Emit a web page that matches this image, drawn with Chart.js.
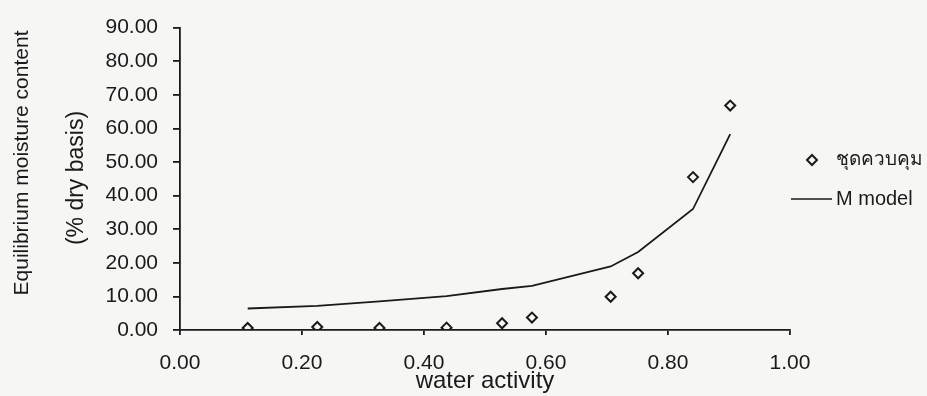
<!DOCTYPE html>
<html>
<head>
<meta charset="utf-8">
<script src="https://cdn.jsdelivr.net/npm/chart.js@4"></script>
<style>
  body { margin: 0; background: #f6f6f5; }
  #wrap { width: 927px; height: 396px; position: relative; }
</style>
</head>
<body>
<div id="wrap"><canvas id="emc-chart"></canvas></div>
<script>
// values
const waterActivity = [0.111, 0.225, 0.327, 0.437, 0.528, 0.577, 0.706, 0.751, 0.841, 0.902];
const controlSet = [0.6, 0.9, 0.6, 0.7, 2.0, 3.7, 9.9, 16.9, 45.5, 66.8];
const mModel = [6.4, 7.2, 8.5, 10.1, 12.2, 13.1, 18.9, 23.2, 36.0, 58.3];
const seriesNames = ['ชุดควบคุม', 'M model'];
const yTitleLines = ['Equilibrium moisture content', '(% dry basis)'];
const xTitle = 'water activity';

const ink = '#1a1a1a';
const fontFamily = 'Arial, "Liberation Sans", sans-serif';

function toPoints(xs, ys) {
    return xs.map((x, i) => ({ x: x, y: ys[i] }));
}

// paints the page background and the hand-placed legend / y title
const decorations = {
    id: 'decorations',
    beforeDraw(chart) {
        const ctx = chart.ctx;
        ctx.save();
        ctx.fillStyle = '#f6f6f5';
        ctx.fillRect(0, 0, chart.width, chart.height);
        ctx.restore();
    },
    afterDraw(chart) {
        const ctx = chart.ctx;
        ctx.save();
        ctx.fillStyle = ink;
        ctx.textBaseline = 'middle';
        ctx.textAlign = 'center';

        // y axis title, two rotated lines
        ctx.save();
        ctx.translate(22, 163);
        ctx.rotate(-Math.PI / 2);
        ctx.font = '21px ' + fontFamily;
        ctx.fillText(yTitleLines[0], 0, 0);
        ctx.restore();
        ctx.save();
        ctx.translate(77, 178);
        ctx.rotate(-Math.PI / 2);
        ctx.font = '23px ' + fontFamily;
        ctx.fillText(yTitleLines[1], 0, 0);
        ctx.restore();

        // legend
        const ds = chart.data.datasets;
        ctx.textAlign = 'left';
        ctx.strokeStyle = ink;

        ctx.lineWidth = 2;
        ctx.beginPath();
        ctx.moveTo(807, 160);
        ctx.lineTo(812, 155);
        ctx.lineTo(817, 160);
        ctx.lineTo(812, 165);
        ctx.closePath();
        ctx.stroke();
        ctx.font = '19px ' + fontFamily;
        ctx.fillText(ds[0].label, 836, 160);

        ctx.lineWidth = 1.6;
        ctx.beginPath();
        ctx.moveTo(791, 199);
        ctx.lineTo(832, 199);
        ctx.stroke();
        ctx.font = '20px ' + fontFamily;
        ctx.fillText(ds[1].label, 836, 199);
        ctx.restore();
    }
};

const ctx = document.getElementById('emc-chart').getContext('2d');
const emcChart = new Chart(ctx, {
    type: 'scatter',
    data: {
        datasets: [{
            label: seriesNames[0],
            data: toPoints(waterActivity, controlSet),
            pointStyle: 'rectRot',
            pointRadius: 5,
            pointBorderWidth: 2,
            borderColor: ink,
            backgroundColor: 'rgba(0,0,0,0)',
            order: 1,
        }, {
            label: seriesNames[1],
            data: toPoints(waterActivity, mModel),
            showLine: true,
            pointRadius: 0,
            borderColor: ink,
            borderWidth: 1.8,
            tension: 0,
            order: 2,
        }],
    },
    options: {
        responsive: true,
        maintainAspectRatio: false,
        animation: false,
        layout: {
            padding: { left: 0, top: 20, right: 137, bottom: 0 },
        },
        plugins: {
            legend: { display: false },
            tooltip: { enabled: false },
        },
        scales: {
            x: {
                type: 'linear',
                min: 0,
                max: 1,
                afterFit: s => { s.height = 66; },
                border: { display: true, color: ink, width: 1.8 },
                grid: { drawOnChartArea: false, drawTicks: true, tickLength: 5, color: ink, lineWidth: 1.8 },
                ticks: {
                    stepSize: 0.2,
                    padding: 16,
                    color: ink,
                    font: { family: fontFamily, size: 21 },
                    callback: v => v.toFixed(2),
                },
                title: {
                    display: true,
                    text: xTitle,
                    color: ink,
                    padding: { top: 0, bottom: 0 },
                    font: { family: fontFamily, size: 24 },
                },
            },
            y: {
                min: 0,
                max: 90,
                afterFit: s => { s.width = 180; },
                border: { display: true, color: ink, width: 1.8 },
                grid: { drawOnChartArea: false, drawTicks: true, tickLength: 7, color: ink, lineWidth: 1.8 },
                ticks: {
                    stepSize: 10,
                    padding: 15,
                    color: ink,
                    font: { family: fontFamily, size: 21 },
                    callback: v => v.toFixed(2),
                },
            },
        },
    },
    plugins: [decorations],
});
</script>
</body>
</html>
